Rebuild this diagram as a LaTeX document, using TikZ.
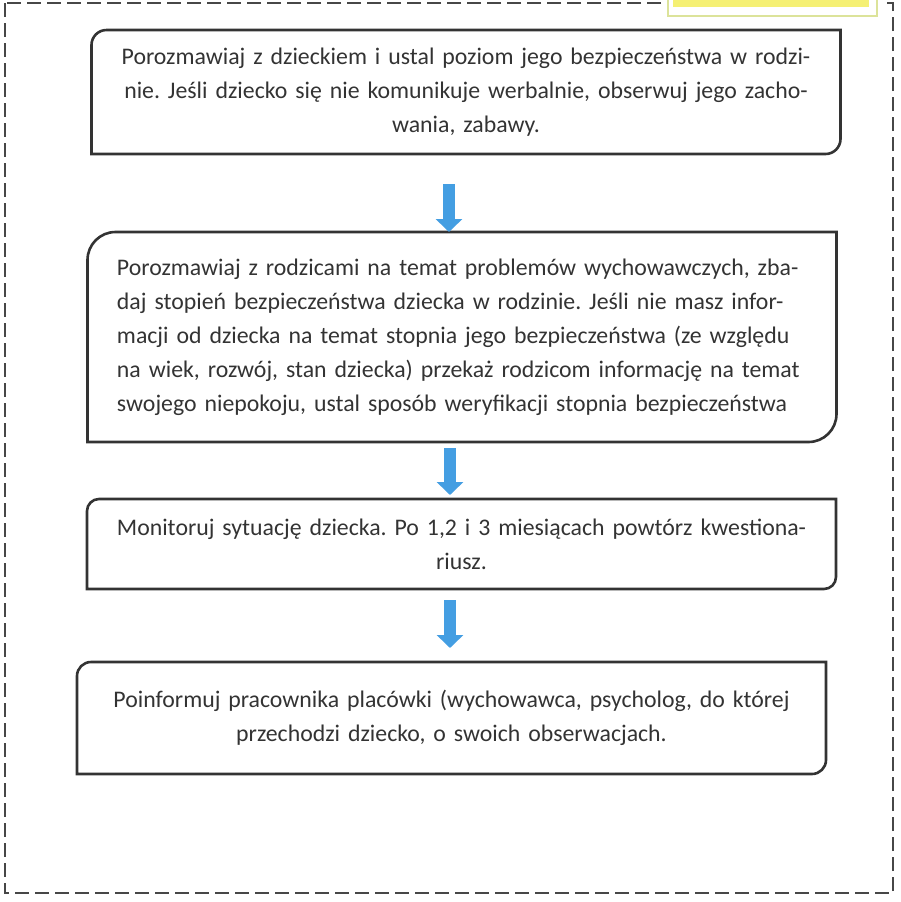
\documentclass[tikz,border=0pt]{standalone}
\usepackage{fontspec}
\setmainfont{Carlito}
\usetikzlibrary{arrows.meta}
\definecolor{inkgray}{HTML}{333333}
\definecolor{arrowblue}{HTML}{449EE2}
\definecolor{notefill}{HTML}{F5F074}
\definecolor{noteedge}{HTML}{DCE39A}
\frenchspacing
\begin{document}
\begin{tikzpicture}[x=0.5pt, y=-0.5pt,
    stepbox/.style={inner sep=0pt, outer sep=0pt, minimum width=374.5pt, text width=352pt,
      font=\fontsize{11.9}{17}\selectfont, text=inkgray},
    boxline/.style={draw=inkgray, line width=1.3pt},
    blockarrow/.style={arrowblue, line width=6pt, -{Triangle[width=13pt,length=6.5pt]}},
    outerframe/.style={draw=inkgray!90, line width=1pt, dash pattern=on 7pt off 3pt}]
  \useasboundingbox (0,0) rectangle (901,902);
  \draw[outerframe] (5,3) rectangle (893,893);
  \fill[white] (662,-2) rectangle (884,18);
  \draw[noteedge, line width=1pt] (668,-4) rectangle (877,16);
  \fill[notefill] (673,-4) rectangle (869,7);

  \node[stepbox, align=center, minimum height=62pt] (b1) at (466,92)
    {Porozmawiaj z dzieckiem i ustal poziom jego bezpieczeństwa w rodzi-\\
     nie. Jeśli dziecko się nie komunikuje werbalnie, obserwuj jego zacho-\\
     wania, zabawy.};
  \draw[boxline] (b1.south west) -- ([yshift=-7.5pt]b1.north west) arc[start angle=180, end angle=270, radius=15]
    -- (b1.north east) -- ([yshift=7.5pt]b1.south east) arc[start angle=0, end angle=90, radius=15] -- cycle;

  \node[stepbox, text width=345pt, align=left, minimum height=105pt] (b2) at (462,337)
    {Porozmawiaj z rodzicami na temat problemów wychowawczych, zba-\\
     daj stopień bezpieczeństwa dziecka w rodzinie. Jeśli nie masz infor-\\
     macji od dziecka na temat stopnia jego bezpieczeństwa (ze względu\\
     na wiek, rozwój, stan dziecka) przekaż rodzicom informację na temat\\
     swojego niepokoju, ustal sposób weryfikacji stopnia bezpieczeństwa};
  \draw[boxline] (b2.south west) -- ([yshift=-14pt]b2.north west) arc[start angle=180, end angle=270, radius=28]
    -- (b2.north east) -- ([yshift=14pt]b2.south east) arc[start angle=0, end angle=90, radius=28] -- cycle;

  \node[stepbox, align=center, minimum height=45pt] (b3) at (461.5,544)
    {Monitoruj sytuację dziecka. Po 1,2 i 3 miesiącach powtórz kwestiona-\\
     riusz.};
  \draw[boxline] (b3.south west) -- ([yshift=-6pt]b3.north west) arc[start angle=180, end angle=270, radius=12]
    -- (b3.north east) -- ([yshift=6pt]b3.south east) arc[start angle=0, end angle=90, radius=12] -- cycle;

  \node[stepbox, align=center, minimum height=56pt] (b4) at (451.5,718)
    {Poinformuj pracownika placówki (wychowawca, psycholog, do której\\
     przechodzi dziecko, o swoich obserwacjach.};
  \draw[boxline] (b4.south west) -- ([yshift=-7pt]b4.north west) arc[start angle=180, end angle=270, radius=14]
    -- (b4.north east) -- ([yshift=7pt]b4.south east) arc[start angle=0, end angle=90, radius=14] -- cycle;

  \coordinate (a1) at (449,184);
  \coordinate (a2) at (450,448);
  \coordinate (a3) at (450,600);
  \draw[blockarrow] (a1) -- (a1 |- b2.north);
  \draw[blockarrow, shorten >=2pt] (a2) -- (a2 |- b3.north);
  \draw[blockarrow, shorten >=7pt] (a3) -- (a3 |- b4.north);
\end{tikzpicture}
\end{document}
